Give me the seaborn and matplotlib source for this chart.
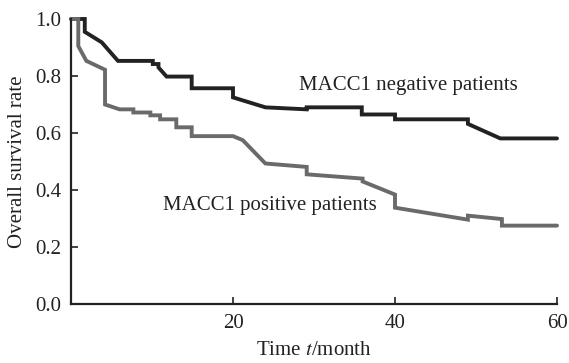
import matplotlib
matplotlib.use('Agg')
import matplotlib.pyplot as plt
import seaborn as sns
import pandas as pd

# survival curves (time in months, survival rate)
neg_t = [0, 1.7, 1.7, 3.8, 5.8, 10.1, 10.1, 10.8, 10.8, 11.8, 14.9, 14.9,
         20.0, 20.0, 24.0, 29.1, 29.1, 35.9, 35.9, 40.0, 40.0, 49.0, 49.0, 53.0, 60]
neg_s = [1.0, 1.0, 0.955, 0.918, 0.853, 0.853, 0.842, 0.842, 0.83, 0.798, 0.798, 0.757,
         0.757, 0.725, 0.69, 0.683, 0.69, 0.69, 0.665, 0.665, 0.648, 0.648, 0.632, 0.581, 0.581]

pos_t = [0, 0.9, 0.9, 1.9, 4.2, 4.2, 6.0, 7.7, 7.7, 9.8, 9.8, 11.0, 11.0, 13.0, 13.0,
         14.9, 14.9, 20.0, 21.2, 24.0, 29.1, 29.1, 36.0, 36.0, 40.0, 40.0, 49.0, 49.0,
         53.2, 53.2, 60]
pos_s = [1.0, 1.0, 0.905, 0.853, 0.822, 0.70, 0.683, 0.683, 0.672, 0.672, 0.662, 0.662,
         0.648, 0.648, 0.62, 0.62, 0.589, 0.589, 0.575, 0.493, 0.481, 0.455, 0.44, 0.43,
         0.384, 0.338, 0.296, 0.31, 0.298, 0.275, 0.275]

groups = ['MACC1 negative patients', 'MACC1 positive patients']

sns.set_style('ticks')
plt.rcParams['font.family'] = ['Liberation Serif', 'DejaVu Serif']
plt.rcParams['mathtext.fontset'] = 'stix'

neg = pd.DataFrame({'t': neg_t, 's': neg_s, 'grp': groups[0]})
pos = pd.DataFrame({'t': pos_t, 's': pos_s, 'grp': groups[1]})
df = pd.concat([neg, pos], ignore_index=True)

fig = plt.figure(figsize=(5.69, 3.63), dpi=100)
ax = fig.add_axes([71 / 569, 1 - 304 / 363, (557 - 71) / 569, (304 - 19) / 363])

sns.lineplot(data=df, x='t', y='s', hue='grp', estimator=None, sort=False,
             palette={groups[0]: '#222222', groups[1]: '#6a6a6a'}, linewidth=2.8,
             legend=False, ax=ax)
for ln in ax.lines:
    ln.set_clip_on(False)
    ln.set_solid_joinstyle('miter')

ax.set_xlim(0, 60)
ax.set_ylim(0, 1.0)
ax.set_xticks([20, 40, 60])
ax.set_yticks([0, 0.2, 0.4, 0.6, 0.8, 1.0])
ax.set_yticklabels(['0.0', '0.2', '0.4', '0.6', '0.8', '1.0'])
ax.tick_params(direction='in', length=5, width=1.2, labelsize=15, colors='#222222', pad=7)
for side in ['left', 'bottom']:
    ax.spines[side].set_linewidth(1.6)
    ax.spines[side].set_color('#222222')
sns.despine(ax=ax)

ax.set_xlabel('Time $t$/month', fontsize=15, color='#222222', labelpad=6)
ax.set_ylabel('Overall survival rate', fontsize=15, color='#222222', labelpad=6)

ax.text(41.7, 0.766, groups[0], fontsize=15, ha='center', va='center', color='#222222')
ax.text(24.6, 0.345, groups[1], fontsize=15, ha='center', va='center', color='#222222')

fig.savefig('out.png', dpi=100, facecolor='white')
